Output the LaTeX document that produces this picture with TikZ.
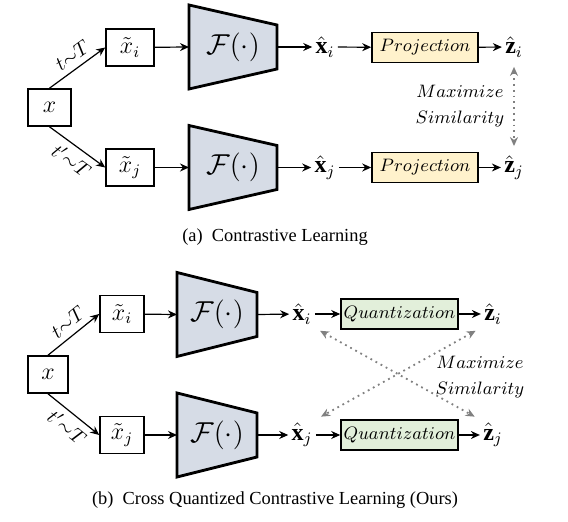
\documentclass[tikz,border=0pt]{standalone}
\usepackage{fontspec}
\setmainfont{Liberation Serif}
\usetikzlibrary{arrows.meta,positioning,calc}
\definecolor{slate}{RGB}{214,220,230}
\definecolor{cream}{RGB}{255,242,204}
\definecolor{sage}{RGB}{226,239,218}
\definecolor{smoke}{RGB}{128,128,128}
\tikzset{
  >={Stealth[length=4.5pt,width=4pt]},
  inbox/.style={draw,line width=0.8pt,minimum width=#1,minimum height=18.5pt,
    inner sep=0pt,font=\large},
  inbox/.default=22pt,
  headbox/.style={draw,fill=#1,line width=0.8pt,minimum width=56pt,minimum height=15pt,
    inner sep=0pt,font=\small},
  headbox/.default=cream,
  vec/.style={inner sep=1.5pt,font=\large},
  flow/.style={->,line width=0.6pt},
  sim/.style={<->,smoke,line width=0.9pt,dotted,shorten <=3pt,shorten >=3pt},
  lab/.style={font=\normalsize,inner sep=3pt,pos=0.55},
  simtext/.style={align=center,font=\small,inner sep=0pt},
  caption/.style={font=\fontsize{9.2}{11}\selectfont},
  % encoder pictogram
  pics/encoder/.style={code={
    \draw[fill=slate,line width=1.4pt,line join=miter] (-#1,-42) -- (#1,-22) -- (#1,22) -- (-#1,42) -- cycle;
    \node[font=\Large] (-f) at (0,0) {$\mathcal{F}(\cdot)$};
    \coordinate (-in) at (-#1,0);
    \coordinate (-out) at (#1,0);
  }},
}
\begin{document}
\begin{tikzpicture}[x=0.5pt,y=-0.5pt]
  \useasboundingbox (0,0) rectangle (568,522);
  % (a) contrastive learning
  \node[inbox=21.5pt] (ax) at (49.5,107.5) {$x$};
  \node[inbox=24pt] (axi) at (130,47.5) {$\tilde{x}_i$};
  \node[inbox=24pt] (axj) at (130,167.5) {$\tilde{x}_j$};
  \pic (aei) at (233,47) {encoder=44};
  \pic (aej) at (233,167.5) {encoder=44};
  \node[vec] (ahi) at (325,47) {$\hat{\mathbf{x}}_i$};
  \node[vec] (ahj) at (325,167.5) {$\hat{\mathbf{x}}_j$};
  \node[headbox=cream,minimum width=53pt] (api) at (425,47.5) {$Projection$};
  \node[headbox=cream,minimum width=53pt] (apj) at (425,167.5) {$Projection$};
  \node[vec] (azi) at (514,47) {$\hat{\mathbf{z}}_i$};
  \node[vec] (azj) at (514,167.5) {$\hat{\mathbf{z}}_j$};
  \draw[flow] (ax.north) -- node[sloped,above,lab] {$t{\sim}T$} (axi.west);
  \draw[flow] (ax.south) -- node[sloped,below,lab] {$t'{\sim}T$} (axj.west);
  \draw[flow] (axi) -- (aei-in);
  \draw[flow] (axj) -- (aej-in);
  \draw[flow] (aei-out) -- (ahi);
  \draw[flow] (aej-out) -- (ahj);
  \draw[flow] (ahi) -- (api);
  \draw[flow] (ahj) -- (apj);
  \draw[flow] (api) -- (azi);
  \draw[flow] (apj) -- (azj);
  \draw[sim] (azi) -- (azj);
  \node[simtext] (asim) at (460,106) {$Maximize$\\[2pt]$Similarity$};
  \node[caption] (acap) at (275,237) {(a)\enspace Contrastive Learning};

  % (b) cross quantized contrastive learning
  \node[inbox=20pt] (bx) at (48,374.5) {$x$};
  \node[inbox=22pt] (bxi) at (122,314) {$\tilde{x}_i$};
  \node[inbox=22pt] (bxj) at (122,435) {$\tilde{x}_j$};
  \pic (bei) at (217,314.5) {encoder=40};
  \pic (bej) at (217,435) {encoder=40};
  \node[vec] (bhi) at (302,314) {$\hat{\mathbf{x}}_i$};
  \node[vec] (bhj) at (302,435) {$\hat{\mathbf{x}}_j$};
  \node[headbox=sage,minimum width=58.5pt] (bqi) at (399.5,314) {$Quantization$};
  \node[headbox=sage,minimum width=58.5pt] (bqj) at (399.5,435) {$Quantization$};
  \node[vec] (bzi) at (493,314) {$\hat{\mathbf{z}}_i$};
  \node[vec] (bzj) at (493,435) {$\hat{\mathbf{z}}_j$};
  \draw[flow] (bx.north) -- node[sloped,above,lab] {$t{\sim}T$} (bxi.west);
  \draw[flow] (bx.south) -- node[sloped,below,lab] {$t'{\sim}T$} (bxj.west);
  \draw[flow] (bxi) -- (bei-in);
  \draw[flow] (bxj) -- (bej-in);
  \draw[flow] (bei-out) -- (bhi);
  \draw[flow] (bej-out) -- (bhj);
  \draw[flow] (bhi) -- (bqi);
  \draw[flow] (bhj) -- (bqj);
  \draw[flow] (bqi) -- (bzi);
  \draw[flow] (bqj) -- (bzj);
  \draw[sim] (bhi.south east) -- (bzj.north west);
  \draw[sim] (bzi.south west) -- (bhj.north east);
  \node[simtext] (bsim) at (480,377) {$Maximize$\\[2pt]$Similarity$};
  \node[caption] (bcap) at (275,500) {(b)\enspace Cross Quantized Contrastive Learning (Ours)};
\end{tikzpicture}
\end{document}
